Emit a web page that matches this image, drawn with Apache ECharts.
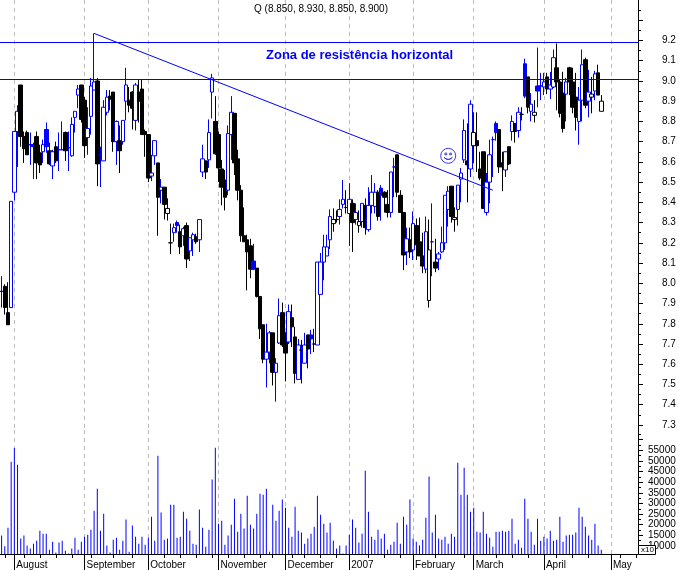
<!DOCTYPE html>
<html>
<head>
<meta charset="utf-8">
<style>html,body{margin:0;padding:0;background:#fff}#c{width:679px;height:570px}</style>
<script src="https://cdn.jsdelivr.net/npm/echarts@6/dist/echarts.min.js"></script>
</head>
<body>
<div id="c"></div>
<script>
const opens = [7.96,7.985,7.855,7.88,8.45,8.75,8.98,8.725,8.745,8.685,
8.685,8.725,8.645,8.65,8.76,8.655,8.58,8.675,8.66,8.66,
8.745,8.67,8.63,8.82,8.93,8.98,8.905,8.72,8.825,8.955,
9.0,8.635,8.605,8.845,8.925,8.945,8.7,8.705,8.7,8.9,
8.905,8.945,8.805,8.945,8.96,8.75,8.735,8.53,8.63,8.595,
8.46,8.475,8.345,8.2,8.25,8.3,8.255,8.235,8.285,8.16,
8.215,8.23,8.215,8.55,8.605,8.61,8.945,8.8,8.735,8.565,
8.51,8.46,8.735,8.84,8.615,8.46,8.235,8.215,8.185,8.11,
8.075,7.935,7.795,7.625,7.66,7.755,7.56,7.705,7.855,7.755,
7.71,7.83,7.735,7.525,7.67,7.605,7.745,7.745,7.7,7.695,
7.945,8.105,8.135,8.215,8.295,8.315,8.33,8.39,8.375,8.345,
8.395,8.315,8.285,8.305,8.385,8.265,8.385,8.38,8.45,8.47,
8.45,8.39,8.35,8.575,8.635,8.435,8.35,8.155,8.215,8.165,
8.285,8.205,8.135,8.07,7.915,8.205,8.105,8.12,8.155,8.2,
8.365,8.48,8.315,8.365,8.515,8.61,8.605,8.565,8.68,8.705,
8.565,8.65,8.35,8.5,8.71,8.79,8.76,8.595,8.56,8.675,
8.75,8.79,8.755,8.835,9.085,9.02,8.85,8.83,8.975,8.975,
8.97,9.02,8.96,8.97,9.065,8.995,8.94,8.935,9.065,8.995,
8.92,8.8,8.905,9.105,8.9,8.92,8.95,9.04,8.85];
const closes = [7.96,7.88,7.795,8.405,8.75,8.85,8.725,8.665,8.635,8.685,
8.675,8.595,8.585,8.685,8.675,8.59,8.65,8.605,8.66,8.66,
8.655,8.67,8.785,8.85,8.96,8.81,8.68,8.765,8.975,8.995,
8.59,8.635,8.87,8.92,8.91,8.7,8.8,8.655,8.805,8.98,
8.88,8.865,8.98,8.9,8.735,8.735,8.52,8.545,8.705,8.425,
8.475,8.39,8.37,8.2,8.275,8.285,8.18,8.27,8.12,8.225,
8.24,8.205,8.315,8.615,8.55,8.745,9.015,8.64,8.57,8.475,
8.425,8.74,8.845,8.595,8.46,8.235,8.205,8.155,8.07,8.07,
7.935,7.775,7.625,7.66,7.755,7.56,7.605,7.84,7.695,7.655,
7.86,7.785,7.555,7.695,7.67,7.695,7.675,7.725,7.7,8.105,
8.105,8.18,8.18,8.33,8.315,8.315,8.365,8.415,8.375,8.415,
8.3,8.35,8.305,8.395,8.275,8.385,8.45,8.45,8.33,8.435,
8.425,8.35,8.55,8.575,8.45,8.35,8.14,8.22,8.155,8.295,
8.19,8.135,8.085,8.255,8.165,8.205,8.075,8.145,8.2,8.435,
8.455,8.33,8.325,8.485,8.545,8.755,8.585,8.885,8.745,8.68,
8.52,8.37,8.5,8.635,8.71,8.745,8.575,8.575,8.65,8.59,
8.8,8.75,8.845,8.835,8.925,8.87,8.885,8.845,8.95,8.975,
8.995,8.96,8.98,9.115,8.995,8.84,8.765,8.995,8.995,8.87,
8.82,8.905,9.08,8.88,8.945,8.935,9.035,8.93,8.9];
const lows = [7.88,7.845,7.795,7.88,8.41,8.575,8.675,8.595,8.635,8.585,
8.515,8.515,8.545,8.595,8.645,8.585,8.515,8.595,8.555,8.66,
8.605,8.555,8.625,8.745,8.865,8.795,8.62,8.635,8.735,8.955,
8.48,8.475,8.605,8.83,8.855,8.65,8.585,8.545,8.685,8.805,
8.845,8.76,8.755,8.795,8.735,8.625,8.5,8.505,8.585,8.235,
8.395,8.315,8.31,8.145,8.205,8.25,8.145,8.185,8.075,8.11,
8.135,8.195,8.155,8.525,8.515,8.57,8.815,8.635,8.5,8.385,
8.36,8.435,8.61,8.535,8.41,8.205,8.205,7.965,8.025,8.065,
7.93,7.725,7.605,7.485,7.605,7.495,7.415,7.7,7.685,7.515,
7.7,7.685,7.505,7.525,7.505,7.605,7.58,7.65,7.66,7.695,
7.945,8.015,8.135,8.17,8.255,8.3,8.29,8.37,8.345,8.185,
8.155,8.29,8.25,8.275,8.24,8.255,8.345,8.345,8.31,8.31,
8.35,8.325,8.325,8.425,8.425,8.35,8.065,8.09,8.125,8.115,
8.115,8.135,8.05,8.05,7.88,8.035,8.055,8.065,8.15,8.165,
8.28,8.3,8.255,8.285,8.4,8.595,8.4,8.525,8.595,8.55,
8.51,8.37,8.335,8.395,8.525,8.705,8.545,8.455,8.525,8.585,
8.705,8.695,8.72,8.805,8.915,8.84,8.8,8.795,8.87,8.905,
8.93,8.935,8.91,8.965,8.855,8.82,8.745,8.8,8.93,8.84,
8.755,8.685,8.8,8.865,8.82,8.84,8.905,8.93,8.85];
const highs = [8.035,7.995,8.005,8.405,8.75,8.88,8.98,8.75,8.755,8.745,
8.695,8.75,8.685,8.71,8.795,8.695,8.66,8.7,8.745,8.8,
8.75,8.75,8.82,8.85,8.98,8.98,8.92,8.87,9.015,9.235,
9.015,8.675,8.905,8.955,8.955,8.945,8.805,8.78,8.805,9.065,
8.97,8.95,8.99,9.005,9.005,8.76,8.735,8.635,8.705,8.595,
8.515,8.475,8.42,8.295,8.295,8.31,8.29,8.28,8.3,8.225,
8.25,8.245,8.315,8.685,8.605,8.81,9.035,8.925,8.75,8.61,
8.56,8.78,8.925,8.84,8.66,8.485,8.375,8.24,8.22,8.195,
8.075,7.935,7.795,7.8,7.765,7.755,7.63,7.925,7.905,7.755,
7.895,7.895,7.785,7.725,7.72,7.755,7.745,7.77,7.775,8.105,
8.15,8.24,8.24,8.365,8.37,8.36,8.415,8.51,8.46,8.495,
8.415,8.395,8.36,8.395,8.42,8.475,8.535,8.495,8.46,8.485,
8.455,8.46,8.55,8.62,8.635,8.46,8.35,8.275,8.275,8.355,
8.32,8.325,8.25,8.33,8.315,8.395,8.22,8.155,8.28,8.435,
8.48,8.48,8.375,8.485,8.57,8.81,8.79,8.905,8.845,8.845,
8.65,8.65,8.545,8.71,8.725,8.8,8.76,8.65,8.65,8.675,
8.83,8.79,8.87,8.87,9.11,9.02,8.94,8.905,9.165,9.04,
9.04,9.04,9.045,9.155,9.185,9.005,9.045,9.015,9.07,9.065,
9.04,8.97,9.155,9.115,9.055,9.02,9.05,9.08,8.93];
// b = closed above the previous close (blue), k = closed below it (black)
const closeTone = ("bkkbbbkkkb"+"bkkbbkbkbb"+"kbbbbkkbbb"+"kbbbkkbkbb"+"kkbkkkkbbk"+
  "bkkkbbkbkb"+"bkbbkbbkkk"+"kbbkkkkkkb"+"kkkbbkbbkk"+"bkkbkbkbkb"+
  "bbbbkkbbkb"+"kbkbkbbbkb"+"kkbbkkkbkb"+"kkkbkbkbbb"+"bkkbbbkbkk"+
  "kkbbbbkkbk"+"bkbkbkbkbb"+"bkbbkkkbkk"+"kbbkbkbkk").split("");
const volumes = [14900,9900,18600,49600,56000,48200,13500,14900,10200,8800,
11100,12500,17200,15800,15800,8300,12000,6900,11600,12500,
7800,6500,8800,13900,8300,12000,14400,15300,17700,26600,
36900,17200,25200,10200,6900,13000,13900,8300,12500,22400,
7300,19600,14400,11100,14400,10600,13900,23800,12500,52400,
25700,13000,13500,29400,29400,13900,14400,26100,22800,17200,
11100,10600,27100,18600,9700,17700,41200,56200,20500,21900,
10600,14900,20000,32200,16700,25200,18200,33600,20000,18200,
25200,34600,34100,36900,7300,29400,21900,26600,31800,28000,
18600,14400,28500,17200,16300,11100,13500,15800,19100,33600,
24700,20500,16300,20900,12500,8800,10200,6500,10200,15300,
22400,18600,11600,15800,45400,26100,14400,13000,17700,13500,
15800,8300,10600,12000,20900,11100,23800,20000,31800,13500,
12000,10200,13000,23300,42600,16300,24700,13500,13000,14400,
11100,15800,14400,49100,34100,46800,34100,26100,28000,16700,
16300,26100,15800,13900,9700,16700,16700,17200,16700,17200,
22800,11100,13000,9200,32200,22800,16700,10600,22800,12500,
14400,13500,17200,12500,13000,23800,12000,14900,15300,15300,
16300,28000,23800,19100,14900,13000,20500,10200,8300];
const monthNames = {4:"August",26:"September",46:"October",68:"November",89:"December",109:"2007",129:"February",148:"March",170:"April",191:"May"};
const weekTicks = [1,7,12,17,22,28,35,41,51,56,61,66,71,76,81,85,91,95,100,105,115,120,125,136,145,155,160,165,174,179,184,194,199];
const priceLabels = [9.2,9.1,9.0,8.9,8.8,8.7,8.6,8.5,8.4,8.3,8.2,8.1,8.0,7.9,7.8,7.7,7.6,7.5,7.4,7.3];
const priceMajorTicks = [9.3,...priceLabels];
const priceMinorTicks = [9.35,9.25,9.15,9.05,8.95,8.85,8.75,8.65,8.55,8.45,8.35,8.25,8.15,8.05,7.95,7.85,7.75,7.65,7.55,7.45,7.35];
const volumeLabels = [10000,15000,20000,25000,30000,35000,40000,45000,50000,55000];
const volumeMajorTicks = [...volumeLabels,60000];
const volumeMinorTicks = [7500,12500,17500,22500,27500,32500,37500,42500,47500,52500,57500,62500];
const resistanceLevels = [9.1875,9.01];
const trendStart = ["29",9.235], trendEnd = ["154",8.46];
const smileyAt = ["140",8.63];
const SLOTS = 200;
const categories = Array.from({length:SLOTS},(_,i)=>String(i));

const BLUE = "#0000ff", BLACK = "#000000", FONT = "Liberation Sans";
const PMIN = 7.275, PMAX = 9.4, VMIN = 6250, VMAX = 64500;
const isMonth = i => monthNames[i] !== undefined;
const candles = opens.map((o,i)=>{
  const tone = closeTone[i]==="b" ? BLUE : BLACK;
  const fill = o > closes[i] ? tone : "#ffffff";
  return {value:[o,closes[i],lows[i],highs[i]],
    itemStyle:{color:fill,color0:fill,borderColor:tone,borderColor0:tone}};
});
const monthSplit = {show:true,alignWithLabel:true,interval:i=>isMonth(i),
  lineStyle:{color:"#bdbdbd",width:1,type:[4,4]}};
const hidden = {show:false};
const smileyPath = "path://M0 7a7 7 0 1 0 14 0a7 7 0 1 0-14 0zM4 4.5h1.6v1.6h-1.6zM8.4 4.5h1.6v1.6h-1.6zM3.2 8.6q3.8 3.6 7.6 0q-3.8 3.6-7.6 0z";

const chart = echarts.init(document.getElementById("c"),null,{renderer:"canvas"});
chart.setOption({
  animation:false,
  backgroundColor:"#ffffff",
  title:[
    {text:"Q (8.850, 8.930, 8.850, 8.900)",left:249,top:-1,
     textStyle:{fontFamily:FONT,fontSize:10,fontWeight:"normal",color:"#000"}},
    {text:"Zona de resistência horizontal",left:261,top:44,
     textStyle:{fontFamily:FONT,fontSize:13,fontWeight:"bold",color:BLUE}}
  ],
  grid:[
    {left:0,right:41,top:0,height:430},
    {left:0,right:41,top:430,height:124}
  ],
  xAxis:[
    {type:"category",gridIndex:0,data:categories,axisLine:hidden,axisTick:hidden,axisLabel:hidden,splitLine:monthSplit},
    {type:"category",gridIndex:1,data:categories,position:"bottom",
     axisLine:{show:true,lineStyle:{color:BLACK,width:1}},
     axisTick:{show:true,alignWithLabel:true,interval:i=>isMonth(i),length:16,lineStyle:{color:BLACK}},
     axisLabel:{show:true,interval:i=>isMonth(i),formatter:(v,i)=>monthNames[i]||"",align:"left",padding:[0,0,0,2],margin:6,
       fontFamily:FONT,fontSize:10,color:"#000"},
     splitLine:monthSplit},
    {type:"category",gridIndex:1,data:categories,position:"bottom",axisLine:hidden,axisLabel:hidden,
     axisTick:{show:true,alignWithLabel:true,interval:i=>weekTicks.includes(i),length:4,lineStyle:{color:BLACK}},
     splitLine:hidden}
  ],
  yAxis:[
    {type:"value",gridIndex:0,position:"right",min:PMIN,max:PMAX,splitLine:hidden,
     axisLine:{show:true,onZero:false,lineStyle:{color:BLACK,width:1}},
     axisTick:{show:true,length:5,customValues:priceMajorTicks,lineStyle:{color:BLACK}},
     axisLabel:{show:true,customValues:priceLabels,margin:24,formatter:v=>v.toFixed(1),fontFamily:FONT,fontSize:10,color:"#000"}},
    {type:"value",gridIndex:0,position:"right",min:PMIN,max:PMAX,splitLine:hidden,axisLine:hidden,axisLabel:hidden,
     axisTick:{show:true,length:3,customValues:priceMinorTicks,lineStyle:{color:BLACK}}},
    {type:"value",gridIndex:1,position:"right",min:VMIN,max:VMAX,splitLine:hidden,
     axisLine:{show:true,onZero:false,lineStyle:{color:BLACK,width:1}},
     axisTick:{show:true,length:5,customValues:volumeMajorTicks,lineStyle:{color:BLACK,width:1}},
     axisLabel:{show:true,customValues:volumeLabels,margin:10,formatter:v=>String(v),fontFamily:FONT,fontSize:10,color:"#000"}},
    {type:"value",gridIndex:1,position:"right",min:VMIN,max:VMAX,splitLine:hidden,axisLine:hidden,axisLabel:hidden,
     axisTick:{show:true,length:3,customValues:volumeMinorTicks,lineStyle:{color:BLACK}}}
  ],
  series:[
    {type:"candlestick",xAxisIndex:0,yAxisIndex:0,barWidth:4,data:candles,silent:true,
     itemStyle:{borderWidth:1},
     markLine:{silent:true,symbol:"none",label:hidden,animation:false,
       lineStyle:{color:BLUE,width:1,type:"solid"},
       data:[...resistanceLevels.map(v=>({yAxis:v})),
             [{coord:trendStart},{coord:trendEnd}]]},
     markPoint:{silent:true,animation:false,label:hidden,
       data:[{coord:smileyAt,symbol:smileyPath,symbolSize:15,
         itemStyle:{color:"none",borderColor:"#3a3af0",borderWidth:1}}]}},
    {type:"bar",xAxisIndex:1,yAxisIndex:2,data:volumes,barWidth:1,silent:true,itemStyle:{color:BLUE}}
  ],
  graphic:[
    {type:"rect",left:638,top:545,shape:{width:17,height:9},z:100,
     style:{fill:"#fff",stroke:"#000",lineWidth:1}},
    {type:"text",left:641,top:546,z:101,style:{text:"x10",font:"8px 'Liberation Sans'",fill:"#000"}}
  ]
});
</script>
</body>
</html>
